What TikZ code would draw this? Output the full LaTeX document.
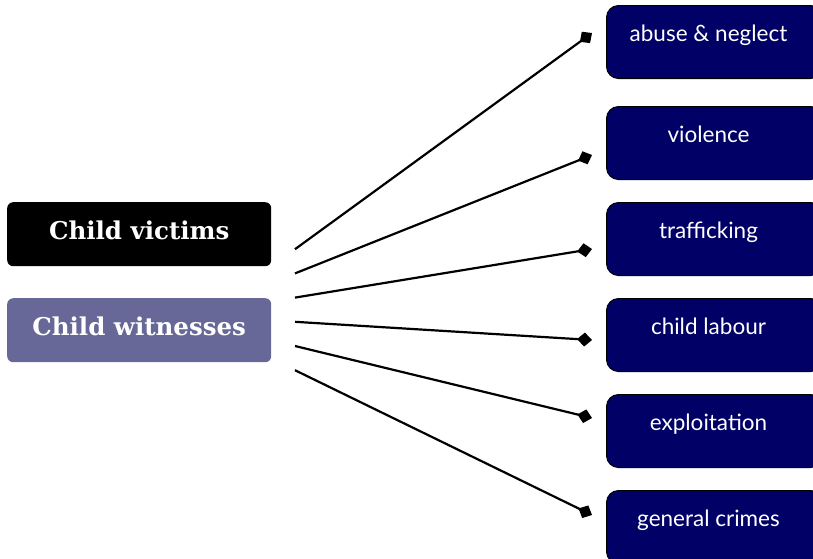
\documentclass[tikz,border=0pt]{standalone}
\usepackage{fontspec}
\setmainfont{DejaVu Serif}
\newfontfamily\itemfont{Lato}
\usetikzlibrary{arrows.meta}
\definecolor{navy}{HTML}{000066}
\definecolor{witness}{HTML}{686898}
\begin{document}
\begin{tikzpicture}[x=1pt,y=-1pt,
  src/.style={rounded corners=6pt,minimum width=264pt,inner sep=0pt,text=white,
    font=\bfseries\fontsize{24.5}{24.5}\selectfont,text height=37pt,text depth=27pt},
  cat/.style={draw=black,line width=1pt,fill=navy,rounded corners=12pt,minimum width=216pt,
    inner sep=0pt,text=white,font=\itemfont\fontsize{22.5}{22.5}\selectfont,text height=36pt,text depth=37pt},
  link/.style={line width=2.2pt,-{Diamond[length=15pt,width=14pt]}}]
  \useasboundingbox (0,0) rectangle (813,558);
  \node[src,fill=black,anchor=north west] (victims) at (7,202) {Child victims};
  \node[src,fill=witness,anchor=north west] (witnesses) at (7,298) {Child witnesses};
  \foreach \name/\txt/\top/\ey [count=\i] in {abuse/abuse \& neglect/5/33,violence/violence/106/155,
      trafficking/trafficking/202/249,labour/child labour/298/340,
      exploitation/exploitation/394/418,crimes/general crimes/490/515} {
    \node[cat,anchor=north west] (\name) at (606,\top) {\txt\hspace*{12pt}};
    \coordinate (s\i) at (295,{225+24.2*\i});
    \coordinate (e\i) at (592,\ey);
    \draw[link] (s\i) -- (e\i);
  }
\end{tikzpicture}
\end{document}
